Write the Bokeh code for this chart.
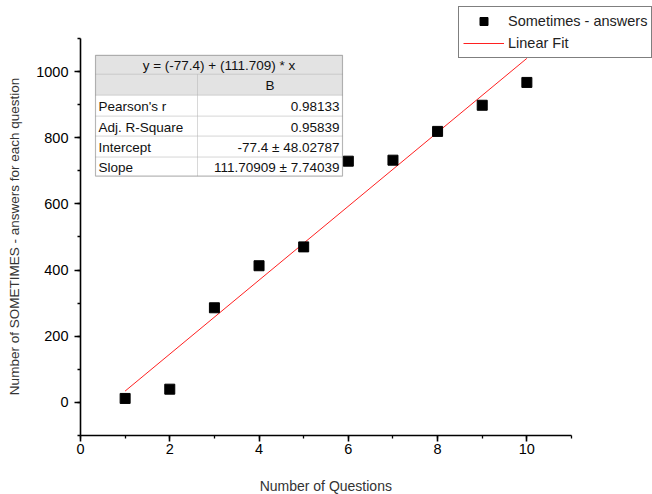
from bokeh.plotting import figure
from bokeh.models import (Legend, LegendItem, BoxAnnotation, Label, Title,
                          SingleIntervalTicker, Range1d)
from bokeh.embed import file_html
from bokeh.resources import INLINE

# ---- data ----
questions = [1, 2, 3, 4, 5, 6, 7, 8, 9, 10]
sometimes = [12, 40, 286, 413, 470, 729, 732, 819, 898, 967]
fit_intercept = -77.4
fit_slope = 111.709
fit_x = [1, 10]
fit_y = [fit_intercept + fit_slope * v for v in fit_x]

x_title = "Number of Questions"
y_title = "Number of SOMETIMES - answers for each question"
table_title = "y = (-77.4) + (111.709) * x"
table_header = "B"
table_labels = ["Pearson's r", "Adj. R-Square", "Intercept", "Slope"]
table_values = ["0.98133", "0.95839", "-77.4 \u00b1 48.02787", "111.70909 \u00b1 7.74039"]
legend_labels = ["Sometimes - answers", "Linear Fit"]

FONT = "Liberation Sans"
W, H = 652, 494
X0, X1, Y0, Y1 = 0, 11, -100, 1100          # visible axis extents
AX_L, AX_R, AX_T, AX_B = 80, 571, 38, 436   # canvas pixels of the axis extents
SX = (AX_R - AX_L) / (X1 - X0)
SY = (AX_B - AX_T) / (Y1 - Y0)

# the frame covers the whole area right of / above the axes, so that
# the legend (which sits above the axes) is not clipped
p = figure(width=W, height=H, output_backend="svg", toolbar_location=None,
           x_range=Range1d(X0, X0 + (W - AX_L) / SX),
           y_range=Range1d(Y0, Y0 + AX_B / SY),
           min_border_left=AX_L, min_border_right=0, min_border_top=0,
           min_border_bottom=H - AX_B)
p.outline_line_color = None
p.xgrid.visible = False
p.ygrid.visible = False
p.background_fill_color = "white"
p.border_fill_color = "white"

def dx(px):
    return X0 + (px - AX_L) / SX

def dy(py):
    return Y0 + (AX_B - py) / SY

# fit line & points
fit = p.line(fit_x, fit_y, line_color="#ff2020", line_width=1)
pts = p.scatter(questions, sometimes, marker="square", size=10, fill_color="black", line_color="black")

# axes
for ax in (p.xaxis[0], p.yaxis[0]):
    ax.axis_line_width = 1.6
    ax.axis_line_color = "black"
    ax.major_tick_line_width = 1.6
    ax.minor_tick_line_width = 1.3
    ax.major_tick_out = 6
    ax.major_tick_in = 0
    ax.minor_tick_out = 3
    ax.minor_tick_in = 0
    ax.major_label_text_font = FONT
    ax.major_label_text_font_size = "14.5px"
    ax.major_label_text_color = "black"
    # blank spacer label: pushes the axis titles outward
    ax.axis_label = " "
    ax.axis_label_text_font_size = "1px"

p.xaxis.ticker = SingleIntervalTicker(interval=2, num_minor_ticks=2)
p.yaxis.ticker = SingleIntervalTicker(interval=200, num_minor_ticks=2)
p.xaxis.bounds = (X0, X1)
p.yaxis.bounds = (Y0, Y1)
p.xaxis.major_label_standoff = 2
p.yaxis.major_label_standoff = 6
p.xaxis.axis_label_standoff = 14
p.yaxis.axis_label_standoff = 4

# axis titles, centred on the visible axes (not on the enlarged frame)
XT_SIZE, YT_SIZE = 14, 13.5
xt_w = 9.48 * XT_SIZE     # approx. text width in px
yt_w = 23.5 * YT_SIZE
p.add_layout(Title(text=x_title, text_font=FONT, text_font_size=f"{XT_SIZE}px",
                   text_font_style="normal", text_color="#333333", align="left",
                   offset=(AX_L + AX_R) / 2 - AX_L - xt_w / 2, standoff=2), "below")
p.add_layout(Title(text=y_title, text_font=FONT, text_font_size=f"{YT_SIZE}px",
                   text_font_style="normal", text_color="#333333", align="left",
                   offset=AX_B - (AX_T + AX_B) / 2 - yt_w / 2, standoff=8), "left")

# stats table
TL, TR, TC = 95, 342, 197
rows = [55, 74, 95, 116, 136, 157, 176]
GRID = "#a0a0a0"

def box(l, r, t, b, fill, line=GRID, lw=1.0, alpha=1.0):
    p.add_layout(BoxAnnotation(left=dx(l), right=dx(r), top=dy(t), bottom=dy(b),
                               fill_color=fill, fill_alpha=alpha,
                               line_color=line, line_width=lw))

box(TL, TR, rows[0], rows[1], "#e3e3e3")
box(TL, TC, rows[1], rows[2], "#e3e3e3")
box(TC, TR, rows[1], rows[2], "#e3e3e3")
for i in range(4):
    box(TL, TC, rows[2 + i], rows[3 + i], "white")
    box(TC, TR, rows[2 + i], rows[3 + i], "white")
box(TL, TR, rows[0], rows[-1], "white", line="#505050", lw=1.2, alpha=0)

def lab(x, y, txt, align):
    p.add_layout(Label(x=x, y=y, text=txt, text_font=FONT, text_font_size="13.5px",
                       text_color="#111111", text_align=align, text_baseline="middle"))

lab(dx((TL + TR) / 2), dy((rows[0] + rows[1]) / 2 + 1), table_title, "center")
lab(dx((TC + TR) / 2), dy((rows[1] + rows[2]) / 2 + 1), table_header, "center")
for i in range(4):
    yc = dy((rows[2 + i] + rows[3 + i]) / 2 + 1)
    lab(dx(TL + 3), yc, table_labels[i], "left")
    lab(dx(TR - 3), yc, table_values[i], "right")

# legend: box left edge at canvas x=458, bottom at canvas y=59
legend = Legend(items=[LegendItem(label=legend_labels[0], renderers=[pts]),
                       LegendItem(label=legend_labels[1], renderers=[fit])],
                location=(458 - AX_L, AX_B - 59), orientation="vertical",
                label_text_font=FONT, label_text_font_size="14.5px", label_text_color="#222222",
                border_line_color="black", border_line_width=1,
                background_fill_color="white", background_fill_alpha=1,
                glyph_width=41, glyph_height=20, label_height=20, label_standoff=4, spacing=2,
                padding=4, margin=0)
p.add_layout(legend, "center")

open("out.html", "w").write(file_html(p, INLINE))
